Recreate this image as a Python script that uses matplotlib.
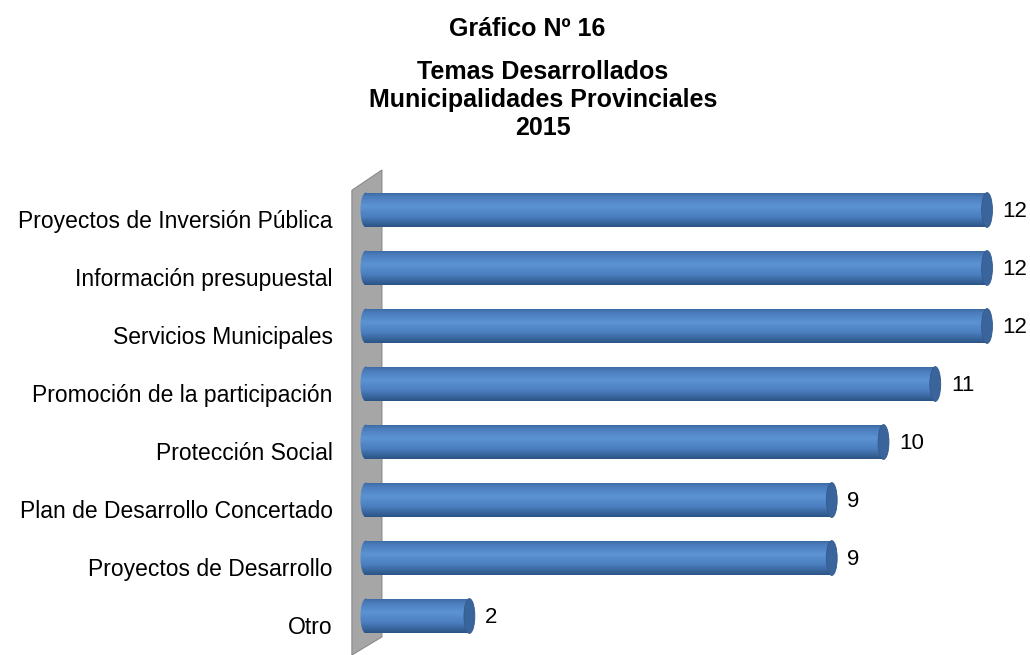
import numpy as np
import matplotlib
matplotlib.use('Agg')
import matplotlib.pyplot as plt
from matplotlib.patches import Rectangle, Ellipse, Polygon
from matplotlib.colors import LinearSegmentedColormap

categories = ['Proyectos de Inversión Pública', 'Información presupuestal',
              'Servicios Municipales', 'Promoción de la participación',
              'Protección Social', 'Plan de Desarrollo Concertado',
              'Proyectos de Desarrollo', 'Otro']
values = [12, 12, 12, 11, 10, 9, 9, 2]

title1 = 'Gráfico Nº 16'
title2 = 'Temas Desarrollados\nMunicipalidades Provinciales\n2015'

plt.rcParams['font.family'] = ['Liberation Sans', 'DejaVu Sans']

fig = plt.figure(figsize=(10.3, 6.55), dpi=100)
ax = fig.add_axes([340 / 1030, 0, 690 / 1030, 495 / 655])
ax.set_xlim(-0.5, 12.83)
ax.set_ylim(7.672, -0.862)
ax.axis('off')

# gray back wall
wall = Polygon([(-0.27, -0.34), (0.31, -0.69), (0.31, 7.36), (-0.27, 7.672)],
               closed=True, facecolor='#a6a6a6', edgecolor='#8a8a8a', lw=0.8, zorder=1)
ax.add_patch(wall)

cmap = LinearSegmentedColormap.from_list('cyl', [
    (0.0, '#3a669f'), (0.12, '#4a7cbb'), (0.4, '#5c93d3'),
    (0.7, '#4c7fbf'), (1.0, '#2c5486')])
grad = np.linspace(0, 1, 64).reshape(-1, 1)

h = 0.6
cw = 0.21
for i, v in enumerate(values):
    top, bot = i - h / 2, i + h / 2
    body = Rectangle((0, top), v, h, transform=ax.transData)
    im = ax.imshow(grad, cmap=cmap, aspect='auto', extent=(-cw, v, bot, top),
                   zorder=3, interpolation='bilinear')
    im.set_clip_path(body)
    left = Ellipse((0, i), cw, h, transform=ax.transData)
    im2 = ax.imshow(grad, cmap=cmap, aspect='auto', extent=(-cw, v, bot, top),
                    zorder=3, interpolation='bilinear')
    im2.set_clip_path(left)
    cap = Ellipse((v, i), cw, h, facecolor='#3a649c', edgecolor='#34598c',
                  lw=0.6, zorder=4)
    ax.add_patch(cap)
    ax.text(v + 0.3, i + 0.03, str(v), fontsize=16, va='center', ha='left', zorder=5)
    ax.text(-0.64, i + 0.2, categories[i], fontsize=16.5, va='center', ha='right',
            clip_on=False)

fig.text(527 / 1030, 1 - 29 / 655, title1, fontsize=18, fontweight='bold',
         ha='center', va='center')
fig.text(543 / 1030, 1 - 100 / 655, title2, fontsize=18, fontweight='bold',
         ha='center', va='center', linespacing=1.2)

fig.savefig('out.png', dpi=100)
